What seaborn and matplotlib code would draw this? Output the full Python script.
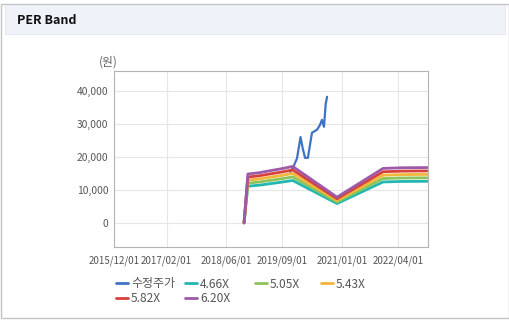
import matplotlib
matplotlib.use("Agg")
import matplotlib.pyplot as plt
import matplotlib.dates as mdates
from matplotlib.patches import Rectangle
from matplotlib.lines import Line2D
import pandas as pd
import seaborn as sns

# ---- data -------------------------------------------------------------
price_dates = ["2019-11-05", "2019-11-25", "2019-12-30", "2020-01-28", "2020-02-15",
               "2020-03-05", "2020-03-28", "2020-04-30", "2020-06-10", "2020-07-05",
               "2020-07-20", "2020-08-06", "2020-08-20", "2020-08-31"]
price_values = [15400, 16500, 19500, 26000, 22500, 19700, 19700, 27300, 28200,
                29700, 31200, 29100, 36000, 38200]

band_dates = ["2018-10-25", "2018-11-25", "2019-02-25", "2019-05-25", "2019-08-25",
              "2019-11-25", "2020-11-20", "2021-11-30", "2022-05-01", "2022-11-25"]
band_466 = [0, 11120, 11420, 11870, 12330, 12850, 5860, 12400, 12550, 12600]
band_505 = [0, 12050, 12380, 12870, 13360, 13930, 6350, 13440, 13600, 13650]
band_543 = [0, 12960, 13310, 13840, 14360, 14980, 6830, 14450, 14630, 14680]
band_582 = [0, 13890, 14270, 14830, 15390, 16050, 7320, 15490, 15680, 15740]
band_620 = [0, 14800, 15200, 15800, 16400, 17100, 7800, 16500, 16700, 16760]

series_names = ["수정주가", "4.66X", "5.05X", "5.43X", "5.82X", "6.20X"]
series_colors = ["#3f73c3", "#22b7b0", "#8cc35a", "#f1b63a", "#d8403c", "#9d5aa8"]

x_ticks = ["2015-12-01", "2017-02-01", "2018-06-01", "2019-09-01", "2021-01-01", "2022-04-01"]
y_ticks = [0, 10000, 20000, 30000, 40000]

# ---- long table --------------------------------------------------------
frames = [pd.DataFrame({"date": pd.to_datetime(price_dates), "value": price_values,
                        "series": series_names[0]})]
for name, vals in zip(series_names[1:], [band_466, band_505, band_543, band_582, band_620]):
    frames.append(pd.DataFrame({"date": pd.to_datetime(band_dates), "value": vals,
                                "series": name}))
df = pd.concat(frames, ignore_index=True)

# ---- figure ------------------------------------------------------------
sns.set_style("white")
plt.rcParams["font.family"] = ["Noto Sans CJK KR", "DejaVu Sans"]

W, H = 510, 324
fig = plt.figure(figsize=(W / 100, H / 100), dpi=100)

# panel frame and header strip
fig.patches.append(Rectangle((0.5 / W, 1 - 318 / H), 508.5 / W, 314 / H,
                             transform=fig.transFigure, fill=False,
                             edgecolor="#c4c4c4", linewidth=1.0))
fig.patches.append(Rectangle((5 / W, 1 - 34 / H), 500 / W, 29 / H,
                             transform=fig.transFigure, facecolor="#eff2f8",
                             edgecolor="#e4e8ef", linewidth=0.6))
fig.text(17 / W, 1 - 20 / H, "PER Band", fontsize=9, fontweight="bold",
         color="#111111", va="center", ha="left")

ax = fig.add_axes([114 / W, 1 - 247 / H, 314 / W, 176 / H])
palette = dict(zip(series_names, series_colors))
sns.lineplot(data=df, x="date", y="value", hue="series", hue_order=series_names,
             palette=palette, linewidth=2.0, legend=False, ax=ax, estimator=None,
             sort=False)
# the price line is a little thinner than the bands
ax.lines[0].set_linewidth(1.6)

ax.set_xlim(pd.Timestamp("2015-12-01"), pd.Timestamp("2022-12-01"))
ax.set_ylim(-7300, 46000)
ax.set_xticks(pd.to_datetime(x_ticks))
ax.xaxis.set_major_formatter(mdates.DateFormatter("%Y/%m/%d"))
ax.set_yticks(y_ticks)
ax.set_yticklabels([f"{v:,}" for v in y_ticks])
ax.set_xlabel("")
ax.set_ylabel("")
ax.grid(True, color="#e6e6e6", linewidth=0.8)
ax.set_axisbelow(True)
for s in ax.spines.values():
    s.set_color("#b4b4b4")
    s.set_linewidth(0.8)
ax.tick_params(axis="x", length=4, color="#b4b4b4", labelsize=7,
               labelcolor="#555555", pad=2)
ax.tick_params(axis="y", length=0, labelsize=7.4, labelcolor="#555555", pad=4)

fig.text(108 / W, 1 - 62 / H, "(원)", fontsize=8.5, color="#666666",
         ha="center", va="center")

# legend, one entry per slot
slots = [(116, 284), (185, 284), (255, 284), (321, 284), (116, 299), (185, 299)]
for name, color, (lx, ly) in zip(series_names, series_colors, slots):
    h = Line2D([], [], color=color, linewidth=2.0)
    leg = fig.legend([h], [name], loc="center left",
                     bbox_to_anchor=(lx / W, 1 - ly / H),
                     frameon=False, fontsize=8.6, handlelength=1.0,
                     handletextpad=0.25, borderpad=0, borderaxespad=0)
    for t in leg.get_texts():
        t.set_color("#555555")

fig.savefig("out.png", dpi=100)
